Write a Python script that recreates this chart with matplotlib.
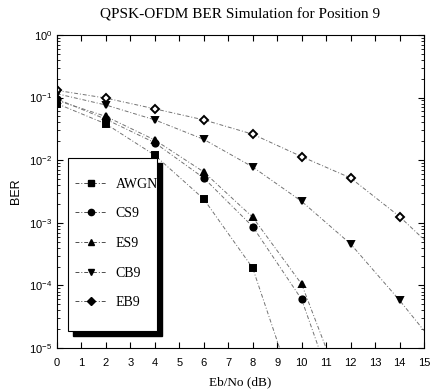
import matplotlib
matplotlib.use("Agg")
import matplotlib.pyplot as plt
from matplotlib.lines import Line2D
from matplotlib.patches import Rectangle

# Eb/No points (dB) where markers sit
awgn_x = [0, 2, 4, 6, 8]
awgn_ber = [0.08, 0.038, 0.012, 0.0024, 1.9e-4]
cs9_x = [0, 2, 4, 6, 8, 10]
cs9_ber = [0.095, 0.045, 0.019, 0.0052, 8.7e-4, 6.0e-5]
es9_x = [0, 2, 4, 6, 8, 10]
es9_ber = [0.09, 0.05, 0.021, 0.0065, 1.23e-3, 1.05e-4]
cb9_x = [0, 2, 4, 6, 8, 10, 12, 14]
cb9_ber = [0.115, 0.076, 0.044, 0.0215, 0.0078, 0.0022, 4.6e-4, 5.8e-5]
eb9_x = [0, 2, 4, 6, 8, 10, 12, 14]
eb9_ber = [0.13, 0.098, 0.066, 0.044, 0.026, 0.0114, 0.0052, 1.26e-3]

# where each fitted curve leaves the plot
awgn_end = (9.1, 1e-5)
cs9_end = (10.7, 1e-5)
es9_end = (11.0, 1e-5)
cb9_end = (15.0, 1.9e-5)
eb9_end = (15.0, 5.4e-4)

labels = ['AWGN', 'CS9', 'ES9', 'CB9', 'EB9']
markers = ['s', 'o', '^', 'v', 'D']

series = [
    (awgn_x, awgn_ber, awgn_end),
    (cs9_x, cs9_ber, cs9_end),
    (es9_x, es9_ber, es9_end),
    (cb9_x, cb9_ber, cb9_end),
    (eb9_x, eb9_ber, eb9_end),
]

fig = plt.figure(figsize=(4.34, 3.92), dpi=100)
ax = fig.add_axes([0.131, 0.112, 0.846, 0.799])

line_style = (0, (4, 2, 1, 2))
for (x, y, end), marker in zip(series, markers):
    ax.plot(list(x) + [end[0]], list(y) + [end[1]], color='0.45', lw=0.7,
            linestyle=line_style)
    mfc = 'white' if marker == 'D' else 'black'
    ax.plot(x, y, linestyle='none', marker=marker, color='black',
            markerfacecolor=mfc, markeredgewidth=1.4, markersize=4.5)

ax.set_yscale('log')
ax.set_xlim(0, 15)
ax.set_ylim(1e-5, 1)
ax.set_xticks(range(0, 16))
ax.tick_params(which='both', direction='in', top=True, right=True)
ax.tick_params(which='major', length=4, labelsize=8)
ax.tick_params(which='minor', length=2)
ax.tick_params(axis='x', pad=7)
for lab in ax.get_xticklabels() + ax.get_yticklabels():
    lab.set_family('Liberation Sans')

ax.set_title('QPSK-OFDM BER Simulation for Position 9', fontsize=11,
             family='Liberation Serif', pad=12)
ax.set_xlabel('Eb/No (dB)', fontsize=9.5, family='Liberation Serif', labelpad=6)
ax.set_ylabel('BER', fontsize=9, family='Liberation Sans', labelpad=5)

# legend box with a heavy black drop shadow
ax.add_patch(Rectangle((0.045, 0.038), 0.242, 0.553, transform=ax.transAxes,
                       facecolor='black', edgecolor='black', zorder=5))
ax.add_patch(Rectangle((0.03, 0.054), 0.242, 0.553, transform=ax.transAxes,
                       facecolor='white', edgecolor='black', lw=0.8, zorder=6))

handles = [Line2D([], [], color='0.3', lw=0.7, linestyle=line_style,
                  marker=m, markerfacecolor='black', markeredgecolor='black',
                  markersize=4.5)
           for m in markers]
leg = ax.legend(handles, labels, loc='upper left',
                bbox_to_anchor=(0.035, 0.562), frameon=False,
                prop={'family': 'Liberation Serif', 'size': 10},
                labelspacing=1.2, handlelength=2.3, handletextpad=0.6,
                borderaxespad=0)
leg.set_zorder(7)

fig.savefig('out.png', dpi=100)
